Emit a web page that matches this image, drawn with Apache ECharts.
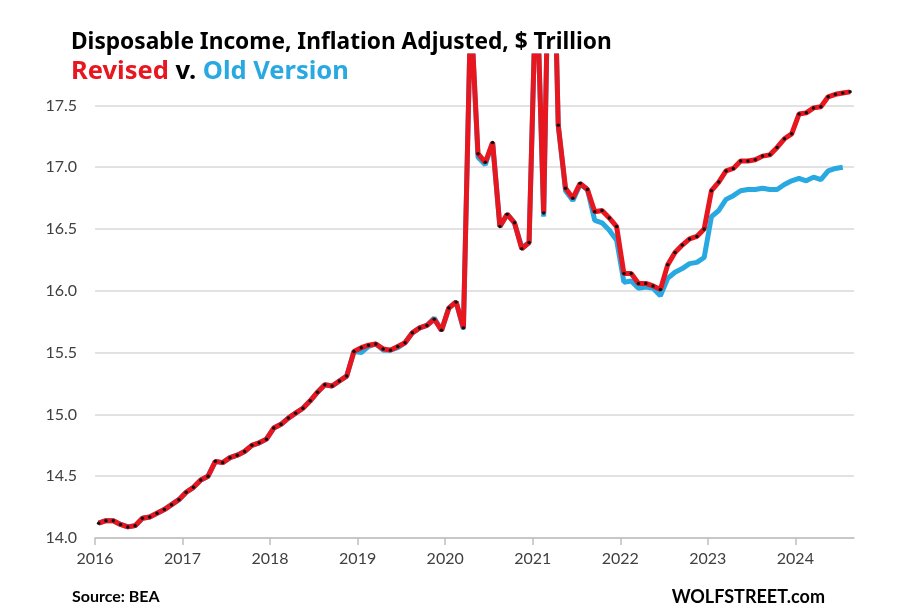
<!DOCTYPE html>
<html>
<head>
<meta charset="utf-8">
<script src="https://cdn.jsdelivr.net/npm/echarts@6/dist/echarts.min.js"></script>
<style>
  html, body { margin: 0; padding: 0; background: #fff; }
  #chart { width: 902px; height: 613px; }
</style>
</head>
<body>
<div id="chart"></div>
<script>
// monthly, first value = Jan 2016
var startYear = 2016
var yearTicks = [2016, 2017, 2018, 2019, 2020, 2021, 2022, 2023, 2024]
var yTicks = [14.0, 14.5, 15.0, 15.5, 16.0, 16.5, 17.0, 17.5]

// revised, Jan 2016 - Aug 2024
var revised = [
  14.12, 14.14, 14.14, 14.11, 14.09, 14.10, 14.16, 14.17, 14.20, 14.23, 14.27, 14.31,
  14.37, 14.41, 14.47, 14.50, 14.62, 14.61, 14.65, 14.67, 14.70, 14.75, 14.77, 14.80,
  14.89, 14.92, 14.97, 15.01, 15.05, 15.11, 15.18, 15.24, 15.23, 15.27, 15.31, 15.51,
  15.54, 15.56, 15.57, 15.53, 15.52, 15.55, 15.58, 15.66, 15.70, 15.72, 15.77, 15.68,
  15.86, 15.91, 15.70, 18.29, 17.11, 17.04, 17.20, 16.52, 16.62, 16.55, 16.34, 16.39,
  18.60, 16.63, 19.80, 17.34, 16.83, 16.75, 16.87, 16.82, 16.64, 16.65, 16.59, 16.52,
  16.14, 16.14, 16.06, 16.06, 16.04, 16.01, 16.21, 16.31, 16.37, 16.42, 16.44, 16.50,
  16.81, 16.88, 16.97, 16.99, 17.05, 17.05, 17.06, 17.09, 17.10, 17.16, 17.23, 17.27,
  17.43, 17.44, 17.48, 17.49, 17.57, 17.59, 17.60, 17.61
]

// old version, Jan 2016 - Jul 2024
var oldVersion = [
  14.12, 14.14, 14.14, 14.11, 14.09, 14.10, 14.16, 14.17, 14.20, 14.23, 14.27, 14.31,
  14.37, 14.41, 14.47, 14.50, 14.62, 14.61, 14.65, 14.67, 14.70, 14.75, 14.77, 14.80,
  14.89, 14.92, 14.97, 15.01, 15.05, 15.11, 15.18, 15.24, 15.23, 15.27, 15.31, 15.51,
  15.50, 15.55, 15.57, 15.52, 15.52, 15.54, 15.58, 15.66, 15.70, 15.72, 15.78, 15.68,
  15.86, 15.91, 15.69, 18.29, 17.08, 17.02, 17.20, 16.52, 16.62, 16.55, 16.35, 16.39,
  18.60, 16.60, 19.80, 17.34, 16.81, 16.73, 16.86, 16.82, 16.57, 16.55, 16.49, 16.41,
  16.07, 16.08, 16.02, 16.03, 16.02, 15.96, 16.10, 16.15, 16.18, 16.22, 16.23, 16.27,
  16.60, 16.65, 16.74, 16.77, 16.81, 16.82, 16.82, 16.83, 16.82, 16.82, 16.86, 16.89,
  16.91, 16.89, 16.92, 16.90, 16.97, 16.99, 17.00
]

// month i sits in the middle of its month
function toPoints (arr) {
  return arr.map(function (v, i) { return [startYear + (i + 0.5) / 12, v] })
}

var font = 'Lato, "Noto Sans", sans-serif'
var titleFont = '"Noto Sans", "Open Sans", sans-serif'
var myChart = echarts.init(document.getElementById('chart'), null, { renderer: 'canvas' })

var option = {
  backgroundColor: '#fff',
  animation: false,
  title: [
    {
      text: 'Disposable Income, Inflation Adjusted, $ Trillion',
      left: 71,
      top: 29,
      padding: 0,
      textStyle: { fontFamily: titleFont, fontWeight: 'bold', fontSize: 22.7, lineHeight: 27, color: '#000' }
    },
    {
      text: '{r|Revised} {k|v.} {b|Old Version}',
      left: 71,
      top: 57,
      padding: 0,
      textStyle: {
        fontFamily: titleFont,
        fontWeight: 'bold',
        fontSize: 25.5,
        lineHeight: 30,
        rich: {
          r: { color: '#e8161e', fontFamily: titleFont, fontWeight: 'bold', fontSize: 25.5 },
          k: { color: '#000', fontFamily: titleFont, fontWeight: 'bold', fontSize: 25.5 },
          b: { color: '#29a9e1', fontFamily: titleFont, fontWeight: 'bold', fontSize: 25.5 }
        }
      }
    },
    {
      text: 'Source: BEA',
      left: 72,
      top: 588,
      padding: 0,
      textStyle: { fontFamily: font, fontWeight: 'bold', fontSize: 16, lineHeight: 18, color: '#000' }
    },
    {
      text: 'WOLFSTREET.com',
      right: 77,
      top: 587,
      padding: 0,
      textStyle: { fontFamily: font, fontWeight: 'bold', fontSize: 18, lineHeight: 20, color: '#000' }
    }
  ],
  grid: {
    left: 95,
    right: 48,
    top: 56,
    bottom: 75,
    containLabel: false
  },
  xAxis: {
    type: 'value',
    min: 2016,
    max: 2024.67,
    axisLine: { show: true, lineStyle: { color: '#bfbfbf', width: 1.5 } },
    axisTick: { show: true, customValues: yearTicks, length: 7, lineStyle: { color: '#bfbfbf', width: 1.5 } },
    axisLabel: {
      customValues: yearTicks,
      margin: 13,
      fontFamily: font,
      fontSize: 16,
      color: '#404040',
      formatter: function (v) { return String(Math.round(v)) }
    },
    splitLine: { show: false }
  },
  yAxis: {
    type: 'value',
    min: 14,
    max: 17.9,
    interval: 0.5,
    axisLine: { show: false },
    axisTick: { show: false },
    axisLabel: {
      customValues: yTicks,
      margin: 18,
      fontFamily: font,
      fontSize: 16,
      color: '#404040',
      formatter: function (v) { return v.toFixed(1) }
    },
    splitLine: {
      show: true,
      showMaxLine: false,
      lineStyle: { color: '#d9d9d9', width: 1.5 }
    }
  },
  series: [
    {
      name: 'Old Version',
      type: 'line',
      data: toPoints(oldVersion),
      showSymbol: false,
      clip: true,
      z: 2,
      lineStyle: { color: '#29a9e1', width: 5 },
      itemStyle: { color: '#29a9e1' }
    },
    {
      name: 'Revised',
      type: 'line',
      data: toPoints(revised),
      showSymbol: true,
      showAllSymbol: true,
      symbol: 'circle',
      symbolSize: 3.5,
      clip: true,
      z: 3,
      lineStyle: { color: '#e8161e', width: 5 },
      itemStyle: { color: '#111', borderWidth: 0 }
    }
  ]
}

myChart.setOption(option)
</script>
</body>
</html>
